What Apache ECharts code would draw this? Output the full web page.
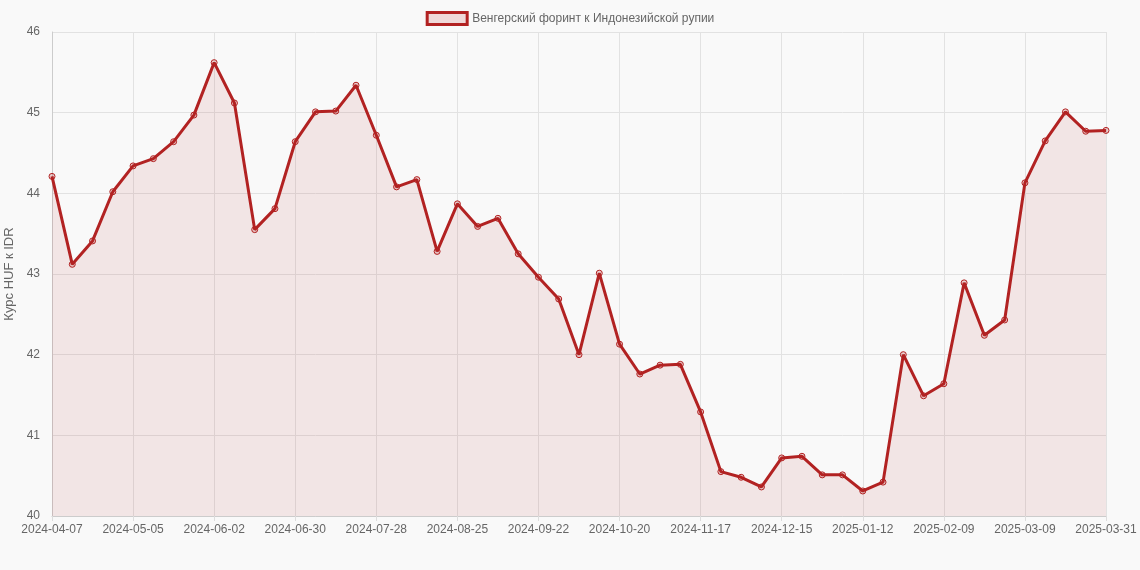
<!DOCTYPE html>
<html><head><meta charset="utf-8">
<script src="https://cdn.jsdelivr.net/npm/echarts@6/dist/echarts.min.js"></script>
<style>html,body{margin:0;padding:0;background:#f9f9f9}#c{width:1140px;height:570px}</style>
</head><body><div id="c"></div>
<script>
const categories = ["2024-04-07","2024-04-14","2024-04-21","2024-04-28","2024-05-05","2024-05-12","2024-05-19","2024-05-26","2024-06-02","2024-06-09","2024-06-16","2024-06-23","2024-06-30","2024-07-07","2024-07-14","2024-07-21","2024-07-28","2024-08-04","2024-08-11","2024-08-18","2024-08-25","2024-09-01","2024-09-08","2024-09-15","2024-09-22","2024-09-29","2024-10-06","2024-10-13","2024-10-20","2024-10-27","2024-11-03","2024-11-10","2024-11-17","2024-11-24","2024-12-01","2024-12-08","2024-12-15","2024-12-22","2024-12-29","2025-01-05","2025-01-12","2025-01-19","2025-01-26","2025-02-02","2025-02-09","2025-02-16","2025-02-23","2025-03-02","2025-03-09","2025-03-16","2025-03-23","2025-03-30","2025-03-31"];
const values = [44.21,43.12,43.41,44.02,44.34,44.43,44.64,44.97,45.62,45.12,43.55,43.81,44.64,45.01,45.02,45.34,44.72,44.08,44.17,43.28,43.87,43.59,43.69,43.25,42.96,42.69,42.00,43.01,42.13,41.76,41.87,41.88,41.29,40.55,40.48,40.36,40.72,40.74,40.51,40.51,40.31,40.42,42.00,41.49,41.64,42.89,42.24,42.43,44.13,44.65,45.01,44.77,44.78];
const seriesName = "Венгерский форинт к Индонезийской рупии";
const last = categories.length - 1;
const show = (i) => i % 4 === 0 || i === last;
const chart = echarts.init(document.getElementById('c'));
chart.setOption({
  backgroundColor: '#f9f9f9',
  animation: false,
  legend: { top: 6, left: 'center', itemWidth: 40, itemHeight: 12,
    textStyle: { color: '#666', fontSize: 12, fontFamily: 'Liberation Sans, Arial' },
    data: [{ name: seriesName, icon: 'rect', itemStyle: { color: 'rgba(178,34,34,0.15)', borderColor: '#b22222', borderWidth: 3 } }] },
  grid: { left: 52, right: 34, top: 32, bottom: 54, outerBoundsMode: 'none' },
  xAxis: { type: 'category', data: categories, boundaryGap: false,
    axisLine: { lineStyle: { color: '#ccc' } }, axisTick: { show: true, interval: show, lineStyle: { color: '#ddd' } },
    axisLabel: { interval: show, color: '#666', fontSize: 12, fontFamily: 'Liberation Sans, Arial', hideOverlap: false },
    splitLine: { show: true, interval: show, lineStyle: { color: '#e2e2e2' } } },
  yAxis: { type: 'value', min: 40, max: 46, interval: 1,
    name: 'Курс HUF к IDR', nameLocation: 'middle', nameGap: 36,
    nameTextStyle: { color: '#666', fontSize: 13, fontFamily: 'Liberation Sans, Arial' },
    axisLine: { show: true, lineStyle: { color: '#ccc' } },
    axisLabel: { color: '#666', fontSize: 12, margin: 12, fontFamily: 'Liberation Sans, Arial' },
    splitLine: { lineStyle: { color: '#e2e2e2' } } },
  series: [{ name: seriesName, type: 'line', data: values,
    symbol: 'circle', symbolSize: 6,
    itemStyle: { color: 'rgba(178,34,34,0.2)', borderColor: '#b22222', borderWidth: 1 },
    lineStyle: { color: '#b22222', width: 3 },
    areaStyle: { color: 'rgba(178,34,34,0.13)' } }]
});
</script></body></html>
